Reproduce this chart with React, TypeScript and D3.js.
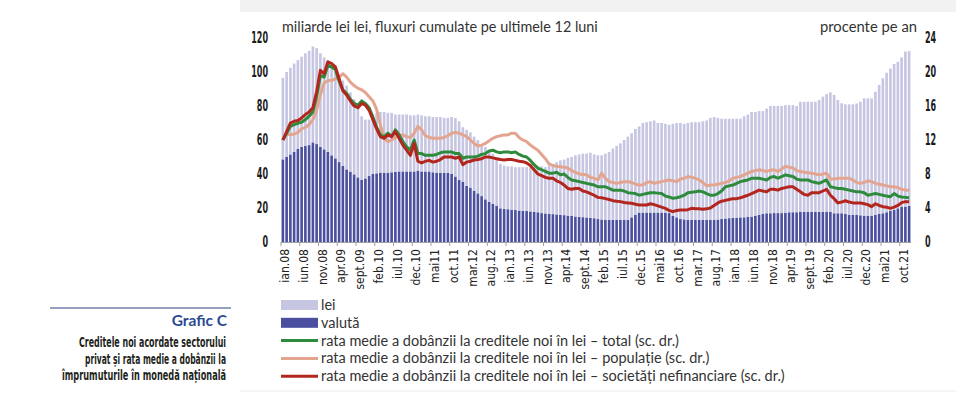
import React, { useEffect, useRef } from 'react';
import * as d3 from 'd3';

// monthly data, ian.2008 - dec.2021
const START_YEAR = 2008;
const MONTH_NAMES = ['ian', 'feb', 'mar', 'apr', 'mai', 'iun', 'iul', 'aug', 'sept', 'oct', 'nov', 'dec'];

// new loans, bn lei, 12-month cumulated flows
const valuta = [
  48.6, 50.2, 51.5, 53, 54.7, 56, 56.5, 57, 58.6, 57.6, 56, 54.5,
  53, 51, 49.2, 47, 44.7, 42.7, 41.4, 39.8, 38, 36.5, 37.4, 38.8,
  40, 40.4, 40.8, 40.8, 40.8, 41, 41.3, 41.5, 41.5, 41.5, 41.5, 41.5,
  42, 41.5, 41.5, 41.5, 41, 40.8, 40.8, 40.8, 40.6, 40, 38.5, 36.5,
  35.5, 33, 32, 30.2, 28.6, 27, 25.1, 23.7, 22.4, 21.2, 19.8, 19.5,
  19.3, 19, 18.8, 18.5, 18.3, 18.2, 18, 17.8, 17.5, 17, 16.8, 16.6,
  16.4, 16.2, 16, 15.8, 15.5, 15.3, 15, 14.8, 14.6, 14.4, 14.2, 14,
  13.5, 13.2, 13, 13, 13, 13, 13, 13, 13, 14.5, 16, 17.3,
  17.3, 17.3, 17.3, 17.3, 17.3, 17.3, 17.3, 17, 15.3, 14.5, 13.5, 13.3,
  13, 13, 13, 13, 13, 13, 13, 13, 13.2, 13.5, 13.8, 14,
  14.2, 14.3, 14.5, 14.5, 14.7, 14.9, 15.5, 15.9, 16.5, 16.9, 16.9, 17,
  17, 17, 17.2, 17.5, 17.5, 17.5, 17.8, 17.8, 17.8, 17.8, 17.8, 17.8,
  17.8, 17.8, 17.8, 16.9, 16.9, 16.9, 16.5, 15.9, 15.9, 15.9, 15.7, 15.5,
  15.5, 15.5, 16, 16.5, 16.9, 17.5, 18.4, 18.8, 19.8, 20.8, 20.8, 21.2
];
const lei = [
  48, 49.8, 51, 52, 52.3, 53, 54.5, 55.5, 56.4, 56.4, 55, 54,
  53.5, 52, 50.8, 50, 50.3, 49.3, 46.6, 44.2, 41, 37.5, 34.6, 33.2,
  35, 35.6, 35.7, 35.7, 35.2, 35, 33.7, 33.5, 33.5, 33.5, 33, 33,
  33, 33, 32.5, 32.5, 32.5, 32.7, 32.7, 32.2, 32.4, 33.5, 34.5, 34.5,
  32, 33, 32.5, 31.8, 31.4, 30.5, 30.9, 30.3, 29.6, 27.8, 26.2, 25.5,
  25.2, 25.5, 25.2, 25.5, 25.7, 25.8, 26, 26.2, 27, 27.5, 27.2, 28.4,
  29.6, 30.8, 32, 32.7, 34, 34.7, 36, 36.7, 37.4, 37.6, 38.3, 37.5,
  37.5, 37.8, 39, 40, 42, 43.5, 45, 47, 49, 49.5, 50.5, 50.7,
  52.7, 53.2, 53.7, 54.2, 52.7, 52.7, 52.2, 52, 54.2, 55.5, 56.5, 56.2,
  57, 57.5, 57.5, 57.5, 58, 58.5, 60, 60.5, 59.8, 59, 58.7, 58.5,
  58.3, 58.2, 58, 59.5, 60.3, 61.6, 61, 61.1, 60.5, 61.6, 63.1, 63,
  63, 63, 63.3, 63, 63, 62.5, 64.7, 64.7, 64.7, 64.7, 64.7, 65.7,
  67.7, 69.2, 70.2, 69.6, 66.6, 64.7, 64.5, 65.1, 65.1, 65.6, 66.8, 69,
  69, 69, 72.4, 75.9, 79.4, 82.1, 83.6, 85.9, 86.2, 87.8, 91.2, 91.1
];

// average interest rate on new lei loans, % per year (right axis)
const rateTotal = [
  12, 12.8, 13.6, 13.8, 13.95, 14.1, 14.4, 14.8, 15.3, 17.1, 19.6, 19.4,
  20.8, 20.6, 20.3, 18.9, 17.9, 17.5, 16.8, 16.3, 16.1, 16.6, 16.3, 15.8,
  14.7, 13.5, 12.6, 12.4, 12.8, 12.4, 13.2, 12.6, 11.8, 11.2, 10.8, 12,
  10.4, 10.4, 10.2, 10.2, 10.2, 10.3, 10.5, 10.6, 10.6, 10.6, 10.4, 10.4,
  9.85, 10, 10, 10, 10.1, 10.3, 10.4, 10.7, 10.8, 10.6, 10.5, 10.6,
  10.6, 10.5, 10.6, 10.3, 10.1, 10, 9.6, 9.1, 8.7, 8.5, 8.3, 8.1,
  8.1, 8.2, 7.9, 8, 7.6, 7.3, 7.2, 7.1, 7, 6.9, 6.8, 6.7,
  6.5, 6.5, 6.5, 6.3, 6.1, 6.1, 6.1, 6, 5.8, 5.75, 5.7, 5.5,
  5.6, 5.7, 5.8, 5.8, 5.75, 5.7, 5.4, 5.3, 5.14, 5.2, 5.33, 5.5,
  5.8, 5.85, 5.9, 6, 5.9, 5.7, 5.5, 5.5, 5.7, 6, 6.5, 6.6,
  6.7, 6.9, 7.1, 7.2, 7.3, 7.5, 7.5, 7.5, 7.4, 7.3, 7.6, 7.7,
  7.5, 7.7, 7.9, 7.8, 7.7, 7.4, 7.3, 7.3, 7.3, 7.1, 7, 6.9,
  7.1, 7.3, 6.5, 6.4, 6.3, 6.3, 6.2, 6.1, 6, 5.9, 5.9, 5.8,
  5.5, 5.6, 5.7, 5.6, 5.5, 5.4, 5.33, 5.7, 5.4, 5.3, 5.25, 5.2
];
const ratePopulatie = [
  12, 12.7, 12.6, 12.7, 12.9, 13.3, 13.5, 13.8, 14.4, 15.5, 17.3, 18.7,
  19, 19, 19.2, 19.4, 19.8, 19.4, 18.8, 18.4, 18.1, 17.9, 17.6, 17.1,
  16.6, 15.6, 13.8, 12.2, 11.8, 12, 12.3, 12.6, 12.6, 12.4, 12.3, 12.8,
  13.6, 13.2, 12.5, 12.3, 12.2, 12.2, 12.2, 12.3, 12.5, 12.8, 12.9, 12.8,
  12.6, 12.4, 12, 11.6, 11.3, 11.4, 11.6, 11.9, 12.2, 12.4, 12.5, 12.6,
  12.6, 12.8, 12.8, 12.3, 12, 11.8, 11.4, 11.1, 10.8, 10.3, 9.8, 9.2,
  9, 8.9, 8.86, 8.8, 8.7, 8.4, 8.2, 8, 7.95, 7.9, 7.6, 7.5,
  7.3, 8.1, 7.5, 7.1, 7, 6.9, 7, 7.1, 7.1, 7, 6.8, 6.7,
  6.7, 7, 7.1, 6.9, 7, 7.1, 7.2, 7.3, 7.2, 7.1, 7.4, 7.5,
  7.7, 7.6, 7.5, 7.3, 7, 6.6, 6.7, 6.7, 6.8, 6.9, 7, 7.2,
  7.5, 7.6, 7.7, 7.9, 8.1, 8.3, 8.4, 8.5, 8.4, 8.3, 8.45, 8.5,
  8.3, 8.6, 8.9, 8.8, 8.7, 8.4, 8.3, 8.2, 8.15, 8.1, 8, 7.9,
  8, 8.1, 7.4, 7.4, 7.5, 7.5, 7.5, 7.5, 7.3, 7, 6.9, 7,
  7.2, 7.1, 6.9, 6.8, 6.7, 6.6, 6.5, 6.5, 6.4, 6.2, 6.1, 6.1
];
const rateSocietati = [
  12, 13, 14, 14.2, 14.3, 14.6, 15, 15.3, 15.8, 17.7, 20.2, 19.8,
  21.2, 21, 20.6, 19.2, 17.8, 17.3, 16.6, 16, 15.8, 16.3, 16.1, 15.5,
  14.4, 13.3, 12.4, 12.2, 12.6, 12.4, 13, 12.2, 11.4, 10.8, 10.2, 11.6,
  9.5, 9.3, 9.5, 9.6, 9.4, 9.5, 9.7, 10, 10, 10, 9.85, 10,
  9.1, 9.4, 9.5, 9.65, 9.7, 9.8, 10, 10, 9.9, 9.8, 9.7, 9.65,
  9.7, 9.7, 9.6, 9.5, 9.45, 9.3, 9, 8.5, 8, 7.8, 7.6, 7.5,
  7.5, 7.2, 7, 6.7, 6.3, 6.2, 6.3, 6.3, 6, 5.9, 5.7, 5.5,
  5.25, 5.2, 5.1, 5, 4.86, 4.8, 4.75, 4.65, 4.6, 4.55, 4.45, 4.35,
  4.35, 4.35, 4.5, 4.4, 4.25, 4.1, 3.96, 3.7, 3.57, 3.7, 3.76, 3.76,
  3.8, 3.96, 3.9, 3.9, 3.85, 3.9, 4, 4.3, 4.6, 4.8, 4.9, 5,
  5.1, 5.1, 5.2, 5.35, 5.5, 5.7, 5.9, 6.1, 6, 5.9, 6.2, 6.2,
  6.1, 6.3, 6.4, 6.5, 6.5, 6.2, 5.9, 5.6, 5.5, 5.8, 5.8, 5.8,
  6, 6.2, 5.5, 5.1, 4.6, 4.7, 4.85, 4.7, 4.6, 4.6, 4.6, 4.5,
  4.4, 4.16, 4.5, 4.3, 4.16, 4.1, 3.96, 4.1, 4.3, 4.63, 4.75, 4.74
];

const leftTicks = [0, 20, 40, 60, 80, 100, 120];
const rightTicks = [0, 4, 8, 12, 16, 20, 24];

const legendItems = [
  {type: 'rect', color: '#c6c6e2', label: 'lei'},
  {type: 'rect', color: '#4a4f9f', label: 'valută'},
  {type: 'line', color: '#2e8b3c', label: 'rata medie a dobânzii la creditele noi în lei – total (sc. dr.)'},
  {type: 'line', color: '#e3a590', label: 'rata medie a dobânzii la creditele noi în lei – populație (sc. dr.)'},
  {type: 'line', color: '#b3261e', label: 'rata medie a dobânzii la creditele noi în lei – societăți nefinanciare (sc. dr.)'}
];

const captionLines = [
  'Creditele noi acordate sectorului',
  'privat și rata medie a dobânzii la',
  'împrumuturile în monedă națională'
];
const captionWidths = [147, 141, 164];

const NARROW = "'Liberation Sans Narrow', 'DejaVu Sans Condensed', 'Roboto', sans-serif";
const REGULAR = "Lato, 'Open Sans', sans-serif";

export default function App() {
  const ref = useRef<HTMLDivElement>(null);

  useEffect(() => {
    const container = ref.current;
    if (!container) return;
    d3.select(container).selectAll('*').remove();

    const width = 980, height = 393;
    const plot = {left: 281, right: 911, top: 38, bottom: 242};

    const svg = d3.select(container).append('svg')
      .attr('width', width).attr('height', height)
      .style('display', 'block')
      .style('background', '#fff');

    // frame strip at top
    svg.append('rect').attr('x', 240).attr('y', 0).attr('width', 716).attr('height', 12).attr('fill', '#f2f2f2');
    svg.append('line').attr('x1', 240).attr('x2', 956).attr('y1', 391).attr('y2', 391).attr('stroke', '#ececec');

    const n = valuta.length;
    const months = d3.range(n);
    const x = d3.scaleBand<number>().domain(months).range([plot.left, plot.right]).paddingInner(0.3).paddingOuter(0.15);
    const step = x.step();
    const yL = d3.scaleLinear().domain([0, 120]).range([plot.bottom, plot.top]);
    const yR = d3.scaleLinear().domain([0, 24]).range([plot.bottom, plot.top]);

    const label = (i: number) => {
      const m = i % 12;
      const yy = String((START_YEAR + Math.floor(i / 12)) % 100).padStart(2, '0');
      return m === 4 ? `mai${yy}` : `${MONTH_NAMES[m]}.${yy}`;
    };

    // stacked bars: valută at bottom, lei on top
    const rows = months.map(i => ({i, valuta: valuta[i], lei: lei[i]}));
    const stack = d3.stack<any>().keys(['valuta', 'lei'])(rows);
    const colors: Record<string, string> = {valuta: '#4a4f9f', lei: '#c6c6e2'};
    stack.forEach(layer => {
      svg.append('g').selectAll('rect').data(layer).enter().append('rect')
        .attr('x', d => x(d.data.i) as number)
        .attr('width', x.bandwidth())
        .attr('y', d => yL(d[1]))
        .attr('height', d => yL(d[0]) - yL(d[1]))
        .attr('fill', colors[layer.key]);
    });

    // x axis
    svg.append('line').attr('x1', plot.left).attr('x2', plot.right).attr('y1', plot.bottom + 0.5).attr('y2', plot.bottom + 0.5)
      .attr('stroke', '#a0a0a0').attr('stroke-width', 1);
    const tickIdx = months.filter(i => i % 5 === 0);
    tickIdx.forEach(i => {
      const tx = plot.left + i * step;
      svg.append('line').attr('x1', tx).attr('x2', tx).attr('y1', plot.bottom).attr('y2', plot.bottom + 4)
        .attr('stroke', '#a0a0a0').attr('stroke-width', 1);
      svg.append('text')
        .attr('transform', `translate(${tx + 4},${plot.bottom + 7}) rotate(-90)`)
        .attr('text-anchor', 'end').attr('dy', '0.35em')
        .attr('font-family', NARROW).attr('font-size', 12).attr('fill', '#222')
        .text(label(i));
    });

    // left / right axis labels
    leftTicks.forEach(t => {
      svg.append('text').attr('x', 268).attr('y', yL(t)).attr('dy', '0.36em').attr('text-anchor', 'end')
        .attr('font-family', NARROW).attr('font-size', 15).attr('font-weight', 600).attr('fill', '#1a1a1a')
        .attr('textLength', String(t).length * 5.6).attr('lengthAdjust', 'spacingAndGlyphs').text(t);
    });
    rightTicks.forEach(t => {
      svg.append('text').attr('x', 925).attr('y', yR(t)).attr('dy', '0.36em').attr('text-anchor', 'start')
        .attr('font-family', NARROW).attr('font-size', 15).attr('font-weight', 600).attr('fill', '#1a1a1a')
        .attr('textLength', String(t).length * 5.6).attr('lengthAdjust', 'spacingAndGlyphs').text(t);
    });

    // unit labels
    svg.append('text').attr('x', 282).attr('y', 32).attr('font-family', REGULAR).attr('font-size', 14.4).attr('fill', '#333')
      .text('miliarde lei lei, fluxuri cumulate pe ultimele 12 luni');
    svg.append('text').attr('x', 917).attr('y', 32).attr('text-anchor', 'end').attr('font-family', REGULAR).attr('font-size', 14.8).attr('fill', '#333')
      .text('procente pe an');

    // rate lines
    const cx = (i: number) => (x(i) as number) + x.bandwidth() / 2;
    const line = d3.line<number>().x((d, i) => cx(i)).y(d => yR(d));
    [[ratePopulatie, '#e3a590'], [rateTotal, '#2e8b3c'], [rateSocietati, '#b3261e']].forEach(([data, color]) => {
      svg.append('path').datum(data as number[]).attr('fill', 'none').attr('stroke', color as string)
        .attr('stroke-width', 3).attr('stroke-linejoin', 'round').attr('d', line);
    });

    // legend
    const lg = svg.append('g').attr('transform', 'translate(281,305)');
    legendItems.forEach((item, k) => {
      const yy = k * 17.8;
      if (item.type === 'rect') {
        lg.append('rect').attr('x', 0).attr('y', yy - 5).attr('width', 37).attr('height', 10).attr('fill', item.color);
      } else {
        lg.append('line').attr('x1', 0).attr('x2', 37).attr('y1', yy).attr('y2', yy).attr('stroke', item.color).attr('stroke-width', 3);
      }
      lg.append('text').attr('x', 40).attr('y', yy).attr('dy', '0.35em').attr('font-family', REGULAR).attr('font-size', 14.5)
        .attr('fill', '#333').text(item.label);
    });

    // side caption
    svg.append('line').attr('x1', 50).attr('x2', 231).attr('y1', 308).attr('y2', 308).attr('stroke', '#2c3f7c').attr('stroke-width', 1);
    svg.append('text').attr('x', 227).attr('y', 326).attr('text-anchor', 'end').attr('font-family', REGULAR)
      .attr('font-weight', 700).attr('font-size', 15.5).attr('fill', '#2c4a92').text('Grafic C');
    captionLines.forEach((t, k) => {
      svg.append('text').attr('x', 226).attr('y', 347 + k * 16.5).attr('text-anchor', 'end').attr('font-family', NARROW)
        .attr('font-size', 13.5).attr('font-weight', 600).attr('fill', '#231f20')
        .attr('textLength', captionWidths[k]).attr('lengthAdjust', 'spacingAndGlyphs').text(t);
    });
  }, []);

  return <div ref={ref} style={{position: 'fixed', left: 0, top: 0, width: 980, height: 393}} />;
}
